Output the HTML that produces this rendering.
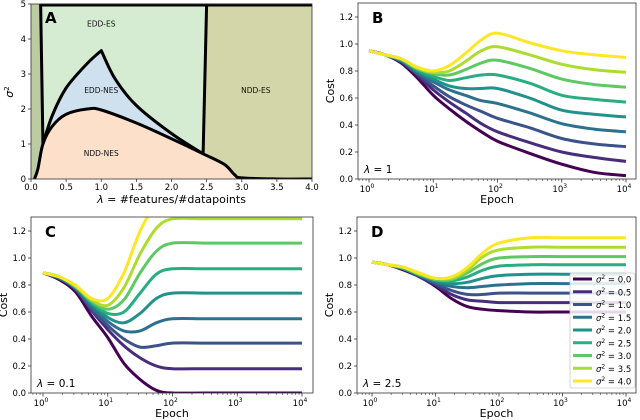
<!DOCTYPE html>
<html><head><meta charset="utf-8"><style>
body{margin:0;background:#fff;}
svg{display:block;font-family:"DejaVu Sans","Liberation Sans",sans-serif;}
</style></head><body>
<svg id="fig" width="640" height="420" viewBox="0 0 640 420"></svg>
<script>
const colors=['#440154','#472d7b','#3b528b','#2c728e','#21918c','#28ae80','#5ec962','#addc30','#fde725'];
const sigmaLabels=['0.0','0.5','1.0','1.5','2.0','2.5','3.0','3.5','4.0'];
const logEpochs=[0,.25,.5,.75,1,1.25,1.5,1.75,2,2.5,3,3.5,4];
const costB=[
[.95,.92,.86,.75,.62,.52,.43,.35,.28,.19,.11,.05,.025],
[.95,.92,.87,.77,.66,.57,.49,.41,.35,.27,.20,.16,.13],
[.95,.92,.87,.78,.69,.61,.55,.50,.45,.38,.30,.26,.24],
[.95,.92,.88,.79,.72,.66,.62,.58,.56,.49,.41,.37,.35],
[.95,.92,.88,.80,.74,.69,.67,.67,.67,.60,.51,.48,.46],
[.95,.92,.88,.81,.76,.73,.75,.77,.77,.71,.62,.59,.57],
[.95,.92,.89,.82,.78,.77,.81,.86,.88,.82,.74,.70,.68],
[.95,.92,.89,.82,.79,.80,.87,.95,.98,.92,.85,.81,.79],
[.95,.92,.89,.83,.80,.84,.93,1.03,1.08,1.01,.95,.92,.90]];
const costC=[
[.89,.84,.75,.57,.41,.22,.10,.02,0,0,0,0,0],
[.89,.85,.77,.61,.47,.35,.26,.20,.18,.18,.18,.18,.18],
[.89,.85,.77,.62,.50,.40,.34,.35,.37,.37,.37,.37,.37],
[.89,.85,.78,.64,.53,.46,.46,.52,.55,.55,.55,.55,.55],
[.89,.86,.78,.66,.56,.52,.59,.70,.74,.74,.74,.74,.74],
[.89,.86,.79,.67,.59,.60,.74,.88,.92,.92,.92,.92,.92],
[.89,.86,.79,.68,.62,.69,.89,1.05,1.11,1.11,1.11,1.11,1.11],
[.89,.86,.79,.69,.65,.78,1.03,1.22,1.29,1.29,1.29,1.29,1.29],
[.89,.86,.80,.70,.70,.89,1.20,1.40,1.48,1.48,1.48,1.48,1.48]];
const costD=[
[.97,.95,.91,.86,.79,.70,.64,.62,.61,.60,.60,.60,.60],
[.97,.95,.92,.86,.80,.73,.69,.68,.67,.67,.67,.67,.67],
[.97,.95,.92,.87,.81,.76,.73,.73,.74,.74,.74,.74,.74],
[.97,.95,.92,.87,.82,.79,.78,.79,.80,.81,.81,.81,.81],
[.97,.95,.92,.87,.83,.81,.82,.85,.87,.88,.88,.88,.88],
[.97,.95,.92,.88,.84,.83,.86,.91,.94,.95,.95,.95,.95],
[.97,.95,.93,.88,.84,.84,.89,.96,1.00,1.01,1.01,1.01,1.01],
[.97,.95,.93,.88,.85,.85,.91,1.01,1.06,1.08,1.08,1.08,1.08],
[.97,.95,.93,.89,.85,.86,.93,1.04,1.11,1.15,1.15,1.15,1.15]];
const costTicks=[0,0.2,0.4,0.6,0.8,1.0,1.2];
const decadeTicks=[0,1,2,3,4];
// Panel A phase diagram
const lowerX=[0.05,0.1,0.17,0.3,0.5,0.8,1.0,1.5,2.0,2.45,2.75,2.9,3.0,3.5,4.0];
const lowerY=[0,0.3,1.0,1.5,1.85,2.0,1.97,1.6,1.15,0.72,0.42,0.12,0.03,0,0];
const upperLeftX=[0.17,0.3,0.5,0.8,1.0];
const upperLeftY=[1.0,1.8,2.6,3.3,3.67];
const upperRightX=[1.0,1.2,1.5,2.0,2.45];
const upperRightY=[3.67,2.85,2.1,1.3,0.72];
const leftLineX=[0.137,0.17], leftLineY=[5,1.0];
const rightLineX=[2.45,2.5], rightLineY=[0.72,5];
const lamTicks=[0,0.5,1,1.5,2,2.5,3,3.5,4];
const sigTicks=[0,1,2,3,4,5];

const svg=document.getElementById('fig');
const NS='http://www.w3.org/2000/svg';
function mk(tag,attrs,parent){const e=document.createElementNS(NS,tag);for(const k in attrs)e.setAttribute(k,attrs[k]);(parent||svg).appendChild(e);return e;}
function smooth(pts){let d='M'+pts[0][0].toFixed(1)+','+pts[0][1].toFixed(1);
 for(let i=0;i<pts.length-1;i++){const p0=pts[Math.max(0,i-1)],p1=pts[i],p2=pts[i+1],p3=pts[Math.min(pts.length-1,i+2)];
 const c1=[p1[0]+(p2[0]-p0[0])/6,p1[1]+(p2[1]-p0[1])/6],c2=[p2[0]-(p3[0]-p1[0])/6,p2[1]-(p3[1]-p1[1])/6];
 d+='C'+c1[0].toFixed(1)+','+c1[1].toFixed(1)+' '+c2[0].toFixed(1)+','+c2[1].toFixed(1)+' '+p2[0].toFixed(1)+','+p2[1].toFixed(1);}
 return d;}

// ---------- Panel A ----------
const A={L:31,R:312,T:4,B:179};
const ax=v=>A.L+v/4*(A.R-A.L), ay=v=>A.B-v/5*(A.B-A.T);
const gA=mk('g',{});


const cpA=mk('clipPath',{id:'cA'},gA);
mk('rect',{x:A.L,y:A.T,width:A.R-A.L,height:A.B-A.T},cpA);
const gAc=mk('g',{'clip-path':'url(#cA)'},gA);
const bgA=mk('rect',{x:A.L,y:A.T,width:A.R-A.L,height:A.B-A.T,fill:'#d5ebd2'},gAc);

const lowerPts=lowerX.map((x,i)=>[ax(x),ay(lowerY[i])]);
const ulPts=upperLeftX.map((x,i)=>[ax(x),ay(upperLeftY[i])]);
const urPts=upperRightX.map((x,i)=>[ax(x),ay(upperRightY[i])]);
const upperD=smooth(ulPts)+smooth(urPts).replace('M','L');
const ls=mk('path',{d:`M${A.L},${A.T}L${ax(leftLineX[0])},${ay(leftLineY[0])}L${ax(leftLineX[1])},${ay(leftLineY[1])}L${ax(0.05)},${A.B}L${A.L},${A.B}Z`,fill:'#bccba2'},gAc);

const rr=mk('path',{d:`M${ax(rightLineX[0])},${ay(rightLineY[0])}L${ax(rightLineX[1])},${ay(rightLineY[1])}L${A.R},${A.T}L${A.R},${A.B}L${ax(3.0)},${A.B}`+smooth(lowerPts.slice(9).reverse()).replace('M','L')+'Z',fill:'#d3d6a8'},gAc);

const bl=mk('path',{d:upperD+smooth(lowerPts.slice(2,10).reverse()).replace('M','L')+'Z',fill:'#cfe0ee'},gAc);

const orp=mk('path',{d:smooth(lowerPts)+`L${A.R},${A.B}L${ax(0.05)},${A.B}Z`,fill:'#fce0c9'},gAc);

[[smooth(lowerPts),'lower-boundary'],[upperD,'upper-boundary'],
 [`M${ax(leftLineX[0])},${ay(leftLineY[0])}L${ax(leftLineX[1])},${ay(leftLineY[1])}`,'left-boundary'],
 [`M${ax(rightLineX[0])},${ay(rightLineY[0])}L${ax(rightLineX[1])},${ay(rightLineY[1])}`,'right-boundary']].forEach(([d,n])=>{
 const p=mk('path',{d,fill:'none',stroke:'#000','stroke-width':3,'stroke-linejoin':'round'},gAc);
 });
mk('line',{x1:ax(0.137),x2:A.R,y1:A.T+1,y2:A.T+1,stroke:'#000','stroke-width':3},gA);
mk('rect',{x:A.L,y:A.T,width:A.R-A.L,height:A.B-A.T,fill:'none',stroke:'#333','stroke-width':0.8},gA);
[['EDD-ES',1.0,4.45],['EDD-NES',1.0,2.55],['NDD-ES',3.2,2.55],['NDD-NES',1.0,0.75]].forEach(([t,x,y])=>{
 const e=mk('text',{x:ax(x),y:ay(y)+3,'font-size':7.5,'text-anchor':'middle',fill:'#111'},gA);e.textContent=t;
 });
lamTicks.forEach(v=>{mk('line',{x1:ax(v),x2:ax(v),y1:A.B,y2:A.B+3,stroke:'#333','stroke-width':0.8},gA);
 const t=mk('text',{x:ax(v),y:A.B+11,'font-size':8.5,'text-anchor':'middle'},gA);t.textContent=v.toFixed(1);
 });
sigTicks.forEach(v=>{mk('line',{x1:A.L-3,x2:A.L,y1:ay(v),y2:ay(v),stroke:'#333','stroke-width':0.8},gA);
 const t=mk('text',{x:A.L-5,y:ay(v)+3,'font-size':8.5,'text-anchor':'end'},gA);t.textContent=v;
 });
let t=mk('text',{x:(A.L+A.R)/2,y:203,'font-size':11,'text-anchor':'middle'},gA);
t.innerHTML='<tspan font-style="italic">λ</tspan> = #features/#datapoints';

t=mk('text',{x:13,y:92,'font-size':11,'text-anchor':'middle',transform:'rotate(-90 13 92)'},gA);
t.innerHTML='<tspan font-style="italic">σ</tspan><tspan dy="-4" font-size="7">2</tspan>';

t=mk('text',{x:45,y:23,'font-size':15,'font-weight':'bold'},gA);t.textContent='A';


// ---------- cost panels ----------
function costPanel(cfg){
 const g=mk('g',{});
 
 
 const sx=v=>cfg.x0+v/4*(cfg.x4-cfg.x0), sy=v=>cfg.B-v*135;
 const cp=mk('clipPath',{id:'c'+cfg.id},g);mk('rect',{x:cfg.L,y:cfg.T,width:cfg.R-cfg.L,height:cfg.B-cfg.T},cp);
 const gc=mk('g',{'clip-path':`url(#c${cfg.id})`},g);
 cfg.data.forEach((ser,i)=>{
  const p=mk('path',{d:smooth(logEpochs.map((x,j)=>[sx(x),sy(ser[j])])),fill:'none',stroke:colors[i],'stroke-width':3},gc);
  
  
 });
 mk('rect',{x:cfg.L,y:cfg.T,width:cfg.R-cfg.L,height:cfg.B-cfg.T,fill:'none',stroke:'#333','stroke-width':0.8},g);
 decadeTicks.forEach(k=>{
  mk('line',{x1:sx(k),x2:sx(k),y1:cfg.B,y2:cfg.B+3.5,stroke:'#333','stroke-width':0.8},g);
  const t=mk('text',{x:sx(k)-2,y:cfg.B+13,'font-size':8.5,'text-anchor':'middle'},g);
  t.innerHTML='10<tspan dy="-4" font-size="6">'+k+'</tspan>';
  
  for(let m=2;m<10&&k<4;m++){const xx=sx(k+Math.log10(m));mk('line',{x1:xx,x2:xx,y1:cfg.B,y2:cfg.B+2,stroke:'#333','stroke-width':0.6},g);}
  if(k===0){for(let m=4;m<10;m++){const xx=sx(Math.log10(m/10));if(xx>cfg.L)mk('line',{x1:xx,x2:xx,y1:cfg.B,y2:cfg.B+2,stroke:'#333','stroke-width':0.6},g);}}
 });
 costTicks.forEach(v=>{mk('line',{x1:cfg.L-3,x2:cfg.L,y1:sy(v),y2:sy(v),stroke:'#333','stroke-width':0.8},g);
  const t=mk('text',{x:cfg.L-5,y:sy(v)+3,'font-size':8.5,'text-anchor':'end'},g);t.textContent=v.toFixed(1);
  });
 let t=mk('text',{x:(cfg.L+cfg.R)/2,y:cfg.B+24,'font-size':11,'text-anchor':'middle'},g);t.textContent='Epoch';
 
 const yx=cfg.L-24,ym=(cfg.T+cfg.B)/2;
 t=mk('text',{x:yx,y:ym,'font-size':11,'text-anchor':'middle',transform:`rotate(-90 ${yx} ${ym})`},g);t.textContent='Cost';
 
 t=mk('text',{x:cfg.L+14,y:cfg.T+20,'font-size':15,'font-weight':'bold'},g);t.textContent=cfg.id.toUpperCase();
 
 t=mk('text',{x:cfg.L+6,y:cfg.B-6,'font-size':10.5},g);t.innerHTML='<tspan font-style="italic">λ</tspan> = '+cfg.lam;
 
 return g;
}
costPanel({id:'b',L:358,R:636,T:3,B:179,x0:369,x4:626,data:costB,lam:'1'});
costPanel({id:'c',L:31,R:313,T:217,B:393,x0:43,x4:302,data:costC,lam:'0.1'});
const gD=costPanel({id:'d',L:357,R:636,T:217,B:393,x0:372,x4:626,data:costD,lam:'2.5'});
const lg=mk('g',{},gD);


mk('rect',{x:570,y:273,width:65,height:115,fill:'#fff','fill-opacity':0.85,stroke:'#ccc','stroke-width':0.8,rx:2},lg);
sigmaLabels.forEach((s,i)=>{
 const y=279+i*12.75;
 const e=mk('g',{},lg);
 
 
 mk('line',{x1:573,x2:592,y1:y,y2:y,stroke:colors[i],'stroke-width':3},e);
 const t=mk('text',{x:596,y:y+3.5,'font-size':8.5},e);
 t.innerHTML='<tspan font-style="italic">σ</tspan><tspan dy="-3.5" font-size="6">2</tspan><tspan dy="3.5"> = '+s+'</tspan>';
});
</script>
</body></html>
